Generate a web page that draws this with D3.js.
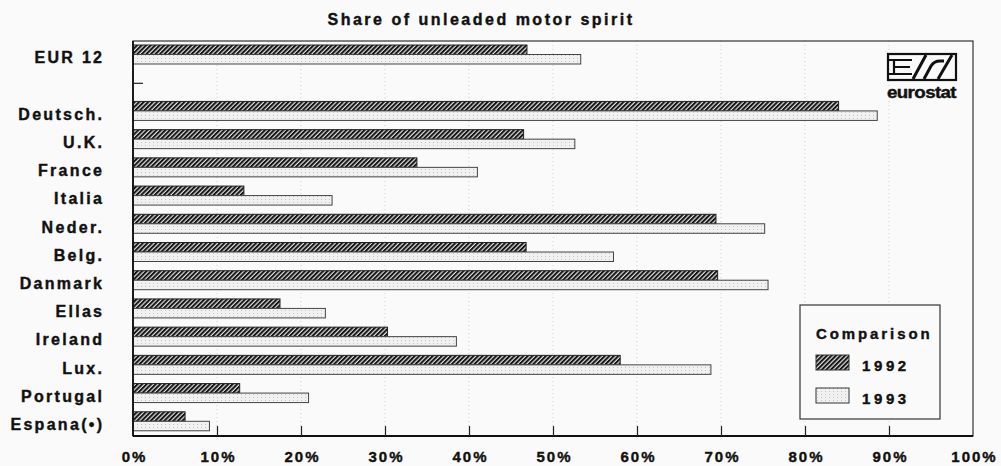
<!DOCTYPE html>
<html>
<head>
<meta charset="utf-8">
<script src="https://cdn.jsdelivr.net/npm/d3@7"></script>
<style>
  html, body { margin: 0; padding: 0; background: #fafafa; }
  svg { display: block; }
  text { font-family: Arial, "Liberation Sans", Helvetica, sans-serif; font-weight: bold; fill: #111; stroke: #111; stroke-width: 0.4px; }
</style>
</head>
<body>
<svg id="chart" width="1001" height="466"></svg>
<script>
// ---- Data ----
const title = "Share of unleaded motor spirit";
const categories = ["EUR 12", "", "Deutsch.", "U.K.", "France", "Italia", "Neder.", "Belg.", "Danmark", "Ellas", "Ireland", "Lux.", "Portugal", "Espana(•)"];
const values1992 = [46.9, null, 84.0, 46.5, 33.8, 13.2, 69.4, 46.8, 69.6, 17.5, 30.3, 58.0, 12.7, 6.2];
const values1993 = [53.3, null, 88.6, 52.6, 41.0, 23.7, 75.2, 57.2, 75.6, 22.9, 38.5, 68.8, 20.9, 9.1];
const seriesNames = ["1992", "1993"];
const xTicks = [0, 10, 20, 30, 40, 50, 60, 70, 80, 90, 100];
const legendTitle = "Comparison";

// ---- Layout ----
const svg = d3.select("#chart");
const m = { left: 133, right: 973, top: 41, bottom: 436 };

const x = d3.scaleLinear().domain([0, 100]).range([m.left, m.right]);
const y = d3.scaleBand().domain(d3.range(categories.length)).range([m.top, m.bottom]).padding(0);
const ySub = d3.scaleBand().domain(seriesNames).range([4, 23]).padding(0);

// ---- Patterns ----
const defs = svg.append("defs");
const hatch = defs.append("pattern")
  .attr("id", "hatch").attr("patternUnits", "userSpaceOnUse")
  .attr("width", 3.2).attr("height", 3.2)
  .attr("patternTransform", "rotate(45)");
hatch.append("rect").attr("width", 3.2).attr("height", 3.2).attr("fill", "#e0e0e0");
hatch.append("rect").attr("x", 0).attr("y", 0).attr("width", 2.0).attr("height", 3.2).attr("fill", "#151515");

const dots = defs.append("pattern")
  .attr("id", "dots").attr("patternUnits", "userSpaceOnUse")
  .attr("width", 4).attr("height", 3);
dots.append("rect").attr("width", 4).attr("height", 3).attr("fill", "#f1f1f1");
dots.append("rect").attr("x", 1).attr("y", 1).attr("width", 1).attr("height", 1).attr("fill", "#c4c4c4");

// ---- Title ----
svg.append("text")
  .attr("x", 481).attr("y", 25)
  .attr("text-anchor", "middle")
  .style("font-size", "16px").style("letter-spacing", "2.5px")
  .text(title);

// ---- Gridlines ----
svg.append("g").selectAll("line")
  .data(xTicks.filter(t => t > 0 && t < 100))
  .join("line")
  .attr("x1", d => x(d)).attr("x2", d => x(d))
  .attr("y1", m.top).attr("y2", m.bottom)
  .attr("stroke", "#cfcfcf").attr("stroke-width", 1)
  .attr("stroke-dasharray", "1,3");

// ---- Bars ----
const rows = categories.map((c, i) => ({ i, c, v: [values1992[i], values1993[i]] }));
const barG = svg.append("g");
rows.forEach(r => {
  seriesNames.forEach((s, k) => {
    const v = r.v[k];
    if (v == null) return;
    barG.append("rect")
      .attr("x", x(0))
      .attr("y", y(r.i) + ySub(s))
      .attr("width", x(v) - x(0))
      .attr("height", ySub.bandwidth())
      .attr("fill", k === 0 ? "url(#hatch)" : "url(#dots)")
      .attr("stroke", k === 0 ? "#222" : "#444")
      .attr("stroke-width", 1);
  });
});

// ---- Frame ----
svg.append("rect")
  .attr("x", m.left).attr("y", m.top)
  .attr("width", m.right - m.left).attr("height", m.bottom - m.top)
  .attr("fill", "none").attr("stroke", "#333").attr("stroke-width", 1.2);
svg.append("line").attr("x1", m.left).attr("x2", m.left).attr("y1", m.top).attr("y2", m.bottom)
  .attr("stroke", "#111").attr("stroke-width", 1.8);
svg.append("line").attr("x1", m.left).attr("x2", m.right).attr("y1", m.bottom).attr("y2", m.bottom)
  .attr("stroke", "#111").attr("stroke-width", 1.8);

// ---- X axis (ticks inward, labels below) ----
const xAxis = d3.axisBottom(x).tickValues(xTicks).tickSizeInner(-10).tickSizeOuter(0)
  .tickFormat(d => d + "%").tickPadding(16);
const gx = svg.append("g").attr("transform", `translate(0,${m.bottom})`).call(xAxis);
gx.select(".domain").remove();
gx.selectAll(".tick line").attr("stroke", "#222").attr("stroke-width", 1.2)
  .filter(d => d === 0 || d === 100).remove();
gx.selectAll(".tick text")
  .attr("y", 0).attr("dy", 0)
  .attr("transform", "translate(1,25.5)")
  .style("font-size", "15px").style("letter-spacing", "2px")
  .style("font-family", "Arial, 'Liberation Sans', sans-serif").style("font-weight", "bold")
  .attr("fill", "#111").attr("stroke", "#111").attr("stroke-width", 0.4);

// ---- Y labels ----
const yAxis = d3.axisLeft(y).tickSize(0).tickFormat(i => categories[i]).tickPadding(0);
const gy = svg.append("g").attr("transform", `translate(${102 + 2.3},0)`).call(yAxis);
gy.select(".domain").remove();
gy.selectAll(".tick text")
  .attr("x", 0).attr("dy", "0.35em")
  .attr("transform", "translate(0,2.5)")
  .style("font-size", "16px").style("letter-spacing", "2.3px")
  .style("font-family", "Arial, 'Liberation Sans', sans-serif").style("font-weight", "bold")
  .attr("fill", "#111").attr("stroke", "#111").attr("stroke-width", 0.4);

// single inward tick at the spacer row
svg.append("line")
  .attr("x1", m.left).attr("x2", m.left + 10)
  .attr("y1", y(1) + y.bandwidth() / 2).attr("y2", y(1) + y.bandwidth() / 2)
  .attr("stroke", "#222").attr("stroke-width", 1.2);

// ---- Legend ----
const lg = svg.append("g");
lg.append("rect").attr("x", 800).attr("y", 305).attr("width", 140).attr("height", 114)
  .attr("fill", "#fafafa").attr("stroke", "#333").attr("stroke-width", 1.2);
lg.append("text").attr("x", 816).attr("y", 338.5)
  .style("font-size", "15px").style("letter-spacing", "2.9px").text(legendTitle);
seriesNames.forEach((s, k) => {
  const yy = 355 + k * 33;
  lg.append("rect").attr("x", 816).attr("y", yy).attr("width", 33).attr("height", 15)
    .attr("fill", k === 0 ? "url(#hatch)" : "url(#dots)")
    .attr("stroke", "#333").attr("stroke-width", 1);
  lg.append("text").attr("x", 862).attr("y", yy + 16)
    .style("font-size", "15px").style("letter-spacing", "3.6px").text(s);
});

// ---- Eurostat logo ----
const logo = svg.append("g").attr("fill", "none").attr("stroke", "#111");
logo.append("rect").attr("x", 888).attr("y", 54).attr("width", 68).attr("height", 26)
  .attr("stroke-width", 2.2);
// E outline (open towards left frame)
logo.append("path")
  .attr("d", "M888,60 H912 M894,60 V74 M894,67 H910 M888,74 H912")
  .attr("stroke-width", 2.2);
// slash and S-shape
logo.append("path")
  .attr("d", "M913,79 L926,55 M924,79 L931,66 Q934,61 940,61 L944,61 M938,79 L952,55")
  .attr("stroke-width", 3);
logo.append("text").attr("x", 887).attr("y", 98)
  .attr("textLength", 69).attr("lengthAdjust", "spacingAndGlyphs")
  .style("font-size", "16px").style("letter-spacing", "-0.5px").text("eurostat");
</script>
</body>
</html>
